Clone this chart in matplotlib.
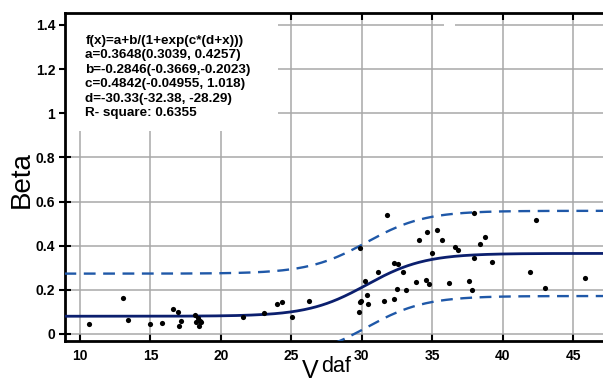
import numpy as np
import matplotlib
matplotlib.use('Agg')
import matplotlib.pyplot as plt
from matplotlib.patches import Rectangle

plt.rcParams['font.family'] = ['Liberation Sans', 'DejaVu Sans']

# measured points: volatile matter (daf) vs beta
vdaf = [10.66, 13.07, 13.38, 14.96, 15.84, 16.57, 16.97, 17.16, 17.04,
        18.16, 18.39, 18.21, 18.51, 18.44, 18.58,
        21.54, 23.05, 23.95, 24.35, 25.06, 26.24,
        29.86, 29.81, 31.75, 29.86, 32.27, 32.55, 31.13, 32.93, 30.23,
        30.33, 29.95, 30.45, 31.54, 32.25, 32.46, 33.14, 34.04, 34.65,
        35.34, 35.65, 34.94, 33.85, 34.56, 34.73, 36.15, 36.62, 36.83,
        37.61, 37.94, 38.72, 38.35, 37.94, 39.22, 37.82,
        42.34, 41.91, 42.96, 45.82]
beta = [0.044, 0.164, 0.065, 0.044, 0.050, 0.111, 0.101, 0.057, 0.035,
        0.087, 0.071, 0.056, 0.057, 0.037, 0.053,
        0.075, 0.093, 0.134, 0.144, 0.078, 0.149,
        0.146, 0.101, 0.540, 0.391, 0.322, 0.319, 0.281, 0.280, 0.239,
        0.175, 0.149, 0.134, 0.150, 0.158, 0.203, 0.200, 0.427, 0.462,
        0.472, 0.426, 0.367, 0.236, 0.245, 0.226, 0.230, 0.394, 0.380,
        0.241, 0.549, 0.438, 0.406, 0.343, 0.328, 0.200,
        0.516, 0.281, 0.209, 0.254]

# fitted logistic parameters (from the annotation)
a, b, c, d = 0.3648, -0.2846, 0.4842, -30.33
band_half = 0.193  # prediction band half width

fit_text = ("f(x)=a+b/(1+exp(c*(d+x)))\n"
            "a=0.3648(0.3039, 0.4257)\n"
            "b=-0.2846(-0.3669,-0.2023)\n"
            "c=0.4842(-0.04955, 1.018)\n"
            "d=-30.33(-32.38, -28.29)\n"
            "R- square: 0.6355")

xticks = [10, 15, 20, 25, 30, 35, 40, 45]
yticks = [0, 0.2, 0.4, 0.6, 0.8, 1.0, 1.2, 1.4]
ytick_labels = ['0', '0.2', '0.4', '0.6', '0.8', '1', '1.2', '1.4']


def logistic(x):
    return a + b / (1 + np.exp(c * (d + x)))


fig = plt.figure(figsize=(6.03, 3.83), dpi=100)
ax = fig.add_axes([65 / 603, 42 / 383, 538 / 603, 328 / 383])

xs = np.linspace(8.9, 47.2, 400)
fy = logistic(xs)
ax.plot(xs, fy + band_half, color='#1f58a8', lw=1.7, ls=(0, (5, 3.2)), zorder=3)
ax.plot(xs, fy - band_half, color='#1f58a8', lw=1.7, ls=(0, (5, 3.2)), zorder=3)
ax.plot(xs, fy, color='#0b1f6e', lw=2.0, zorder=4)
ax.scatter(vdaf, beta, s=14, color='black', zorder=5, linewidths=0)

ax.set_xlim(8.94, 47.1)
ax.set_ylim(-0.032, 1.454)
ax.set_xticks(xticks)
ax.set_yticks(yticks)
ax.set_yticklabels(ytick_labels)
ax.grid(True, color='#a8a8a8', lw=1.1, zorder=0)
ax.set_axisbelow(True)

for lab in ax.get_xticklabels() + ax.get_yticklabels():
    lab.set_fontweight('bold')
    lab.set_fontsize(10)
ax.tick_params(axis='x', direction='in', length=5, width=1.5, top=True, pad=6)
ax.tick_params(axis='y', direction='inout', length=8, width=1.5, pad=3)

for s in ['left', 'bottom', 'top']:
    ax.spines[s].set_linewidth(2.0)
ax.spines['right'].set_visible(False)

# white box behind the fit summary
ax.add_patch(Rectangle((8.94, 0.92), 24.04 - 8.94, 0.6, facecolor='white',
                       edgecolor='none', zorder=1))
ax.add_patch(Rectangle((35.8, 1.38), 0.8, 0.04, facecolor='white',
                       edgecolor='none', zorder=1))
ax.text(0.038, 0.933, fit_text, transform=ax.transAxes, fontsize=9.7,
        fontweight='bold', va='top', ha='left', linespacing=1.27, zorder=6)

fig.text(22 / 603, 1 - 180 / 383, 'Beta', rotation=90, fontsize=20,
         ha='center', va='center')
fig.text(302 / 603, 0.012, 'V', fontsize=18, ha='left', va='baseline')
fig.text(321 / 603, 1 - 372 / 383, 'daf', fontsize=15.5, ha='left', va='baseline')

fig.savefig('out.png', dpi=100)
